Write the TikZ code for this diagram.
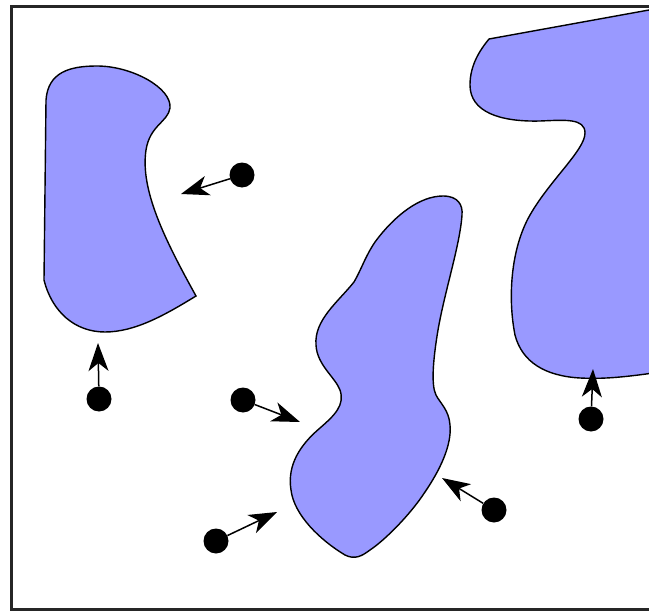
\documentclass[tikz,border=0pt]{standalone}
\usetikzlibrary{arrows.meta}
\definecolor{blobfill}{RGB}{153,153,255}
\begin{document}
\begin{tikzpicture}[x=1pt,y=-1pt,
  blob/.style={fill=blobfill,draw=black,line width=1.4pt},
  dot/.style={circle,fill=black,inner sep=0pt,minimum size=25pt},
  arr/.style={line width=1.5pt,-{Stealth[length=28pt,width=20pt,inset=8pt]}}]
\useasboundingbox (0,0) rectangle (649,613);
\clip (0,0) rectangle (649,613);
% frame
\draw[line width=3pt,black!85] (11,6) rectangle (700,609);
% blob 1
\draw[blob] (44,280) -- (46,100) .. controls (48,72) and (70,66) .. (97,66)
  .. controls (132,66) and (172,88) .. (170,108)
  .. controls (168,122) and (150,125) .. (146,150)
  .. controls (140,190) and (165,240) .. (196,296)
  .. controls (165,315) and (135,332) .. (105,332)
  .. controls (75,332) and (52,312) .. (44,280) -- cycle;
% blob 2
\draw[blob] (443,196) .. controls (458,196) and (463,205) .. (462,215)
  .. controls (460,245) and (445,290) .. (438,330)
  .. controls (433,360) and (431,385) .. (436,395)
  .. controls (440,403) and (449,410) .. (450,425)
  .. controls (452,445) and (440,470) .. (425,492)
  .. controls (410,515) and (385,540) .. (370,550)
  .. controls (362,556) and (355,560) .. (345,555)
  .. controls (320,540) and (294,515) .. (291,490)
  .. controls (287,465) and (300,445) .. (320,428)
  .. controls (335,415) and (345,405) .. (340,390)
  .. controls (335,377) and (317,365) .. (316,345)
  .. controls (314,320) and (338,302) .. (354,282)
  .. controls (362,268) and (365,257) .. (375,242)
  .. controls (395,215) and (420,196) .. (443,196) -- cycle;
% blob 3
\draw[blob] (660,372) .. controls (620,378) and (600,379) .. (580,378)
  .. controls (545,376) and (522,362) .. (515,335)
  .. controls (508,300) and (510,250) .. (530,215)
  .. controls (550,180) and (585,150) .. (585,133)
  .. controls (585,118) and (565,120) .. (540,121)
  .. controls (500,122) and (470,112) .. (470,85)
  .. controls (470,65) and (480,50) .. (489,39) -- (660,8) -- cycle;
% dots and arrows
\node[dot] (dA) at (242,175) {};
\node[dot] (dB) at (99,399) {};
\node[dot] (dC) at (243,400) {};
\node[dot] (dD) at (216,541) {};
\node[dot] (dE) at (494,510) {};
\node[dot] (dF) at (591,419) {};
\coordinate (tA) at (181,194);
\coordinate (tB) at (98,343);
\coordinate (tC) at (300,422);
\coordinate (tD) at (277,512);
\coordinate (tE) at (442,478);
\coordinate (tF) at (593,369);
\draw[arr] (dA) -- (tA);
\draw[arr] (dB) -- (tB);
\draw[arr] (dC) -- (tC);
\draw[arr] (dD) -- (tD);
\draw[arr] (dE) -- (tE);
\draw[arr] (dF) -- (tF);
\end{tikzpicture}
\end{document}
